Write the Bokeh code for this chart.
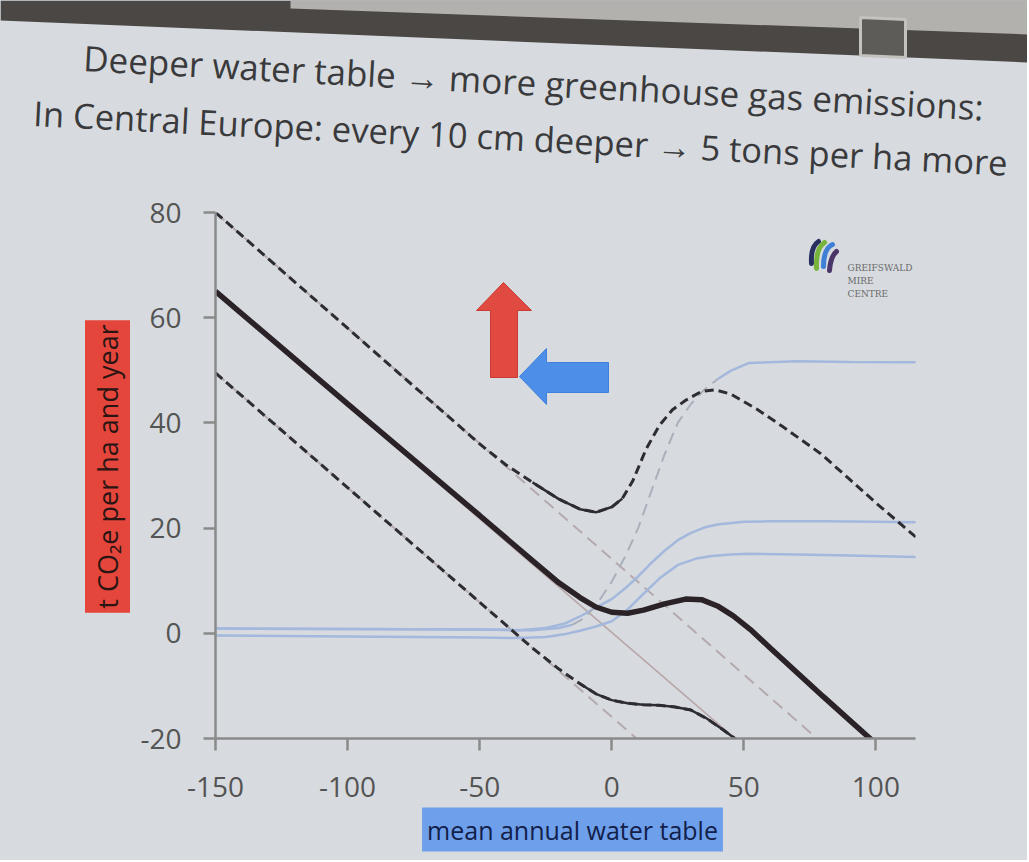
import numpy as np
from bokeh.plotting import figure
from bokeh.layouts import column
from bokeh.models import Range1d, FixedTicker, Label, PrintfTickFormatter
from bokeh.embed import file_html
from bokeh.resources import INLINE

# ---------------- data ----------------
x_ticks = [-150, -100, -50, 0, 50, 100]
y_ticks = [-20, 0, 20, 40, 60, 80]

# total emissions (thick black line)
total_x = [-150, -100, -50, -30, -20, -12, -6, 0, 6, 12, 20, 28, 34, 40, 46, 53, 60, 70, 80, 90, 100, 108]
total_y = [65, 43.6, 22.4, 13.8, 9.6, 6.8, 5.0, 4.0, 3.8, 4.4, 5.6, 6.5, 6.4, 5.2, 3.3, 0.5, -2.8, -7.4, -12.0, -16.5, -21.0, -24.6]

# upper bound (dashed black)
upper_x = [-150, -100, -50, -40, -30, -20, -12, -6, 0, 4, 8, 13, 18, 23, 28, 34, 39, 45, 55, 65, 79, 90, 100, 110, 117]
upper_y = [80, 58, 36, 32, 28.7, 25.5, 23.6, 23.0, 24.0, 25.6, 29, 35, 39.5, 42.5, 44.3, 46.0, 46.3, 45.5, 42.6, 39.2, 34.2, 29.3, 24.8, 20.5, 17.5]

# lower bound (dashed black)
lower_x = [-150, -100, -50, -30, -20, -12, -6, 0, 6, 12, 18, 24, 30, 36, 42, 48, 55]
lower_y = [49.5, 27.7, 5.9, -2.8, -6.8, -9.6, -11.5, -12.7, -13.3, -13.6, -13.7, -14.0, -14.6, -16.2, -18.3, -20.5, -23.0]

# straight CO2 lines (grey)
co2_upper_x = [-150, 80]
co2_upper_y = [80, -21]
co2_mid_x = [-150, 49]
co2_mid_y = [65, -21]
co2_lower_x = [-150, 14]
co2_lower_y = [49.5, -22]

# methane curves (light blue)
ch4_high_x = [-150, -100, -50, -30, -20, -15, -10, -5, 0, 5, 10, 15, 20, 25, 30, 35, 40, 45, 52, 70, 90, 117]
ch4_high_y = [0.9, 0.8, 0.7, 0.6, 1.0, 1.6, 3.0, 6.0, 9.8, 14.5, 20, 27, 34, 40, 43.6, 46.3, 48.3, 49.9, 51.4, 51.7, 51.6, 51.5]
ch4_mid_x = [-150, -100, -50, -35, -25, -18, -12, -6, 0, 5, 10, 15, 20, 25, 30, 35, 40, 50, 60, 80, 100, 117]
ch4_mid_y = [0.9, 0.8, 0.7, 0.6, 1.0, 1.8, 3.2, 4.9, 6.5, 8.5, 10.8, 13.4, 15.7, 17.7, 19.1, 20.1, 20.7, 21.2, 21.3, 21.3, 21.2, 21.1]
ch4_low_x = [-150, -100, -50, -35, -25, -18, -12, -6, 0, 6, 12, 18, 25, 32, 38, 45, 52, 70, 90, 117]
ch4_low_y = [-0.4, -0.6, -0.8, -0.9, -0.7, -0.2, 0.5, 1.3, 2.3, 4.5, 7.5, 10.4, 13.0, 14.2, 14.7, 15.0, 15.1, 15.0, 14.8, 14.5]

title_1 = "Deeper water table \u2192 more greenhouse gas emissions:"
title_2 = "In Central Europe: every 10 cm deeper \u2192 5 tons per ha more"
y_label = "t CO\u2082e per ha and year"
x_label = "mean annual water table"
logo_lines = ["GREIFSWALD", "MIRE", "CENTRE"]

# ---------------- layout / style ----------------
BG = "#d7dbdf"
FONT = "Open Sans"
W = 1027
HTOT = 860
HH = 194                     # header height (picture y 0 .. 194)
MH = HTOT - HH               # main figure height
X0, X1, Y0, Y1 = -150, 115, -20, 80
FL, FT, FW, FH = 215, 212, 700, 526          # frame position in the picture (px)
SX, SY = FW / (X1 - X0), FH / (Y1 - Y0)
TOP = FT - HH


def px_x(px):
    return X0 + (px - FL) / SX


def px_y(py):
    return Y1 - (py - FT) / SY


def hy(py):  # picture y -> header data y
    return HH - py


# ================= header (slide title, projector frame) =================
head = figure(width=W, height=HH, x_range=Range1d(0, W), y_range=Range1d(0, HH),
              x_axis_type=None, y_axis_type=None, min_border=0, toolbar_location=None,
              output_backend="svg", background_fill_color=BG, border_fill_color=BG,
              outline_line_color=None, frame_align=False)
head.grid.visible = False

dark = [(0, 0), (1029, 0), (1029, 62), (0, 20)]
wall = [(290, 0), (1029, 0), (1029, 34), (290, 8)]
bracket = [(860, 17), (905, 19), (905, 57), (860, 55)]
head.patch([a for a, b in dark], [hy(b) for a, b in dark], fill_color="#4a4744", line_color=None)
head.patch([a for a, b in wall], [hy(b) for a, b in wall], fill_color="#b3b1ae", line_color=None)
head.patch([a for a, b in bracket], [hy(b) for a, b in bracket], fill_color="#5e5c59",
           line_color="#c4c2bf", line_width=3)

head.add_layout(Label(x=83, y=hy(57), text=title_1, angle=-0.055, text_font=FONT,
                      text_font_size="35px", text_color="#3a3a3c", text_baseline="alphabetic"))
head.add_layout(Label(x=33, y=hy(112), text=title_2, angle=-0.051, text_font=FONT,
                      text_font_size="34.5px", text_color="#3a3a3c", text_baseline="alphabetic"))

# ================= main chart =================
p = figure(width=W, height=MH, x_range=Range1d(X0, X1), y_range=Range1d(Y0, Y1),
           output_backend="svg", toolbar_location=None,
           min_border_left=FL, min_border_right=W - FL - FW,
           min_border_top=TOP, min_border_bottom=MH - TOP - FH,
           background_fill_color=BG, border_fill_color=BG, outline_line_color=None,
           frame_align=False)
p.grid.visible = False

for ax in (p.xaxis[0], p.yaxis[0]):
    ax.axis_line_color = "#8a8a8a"
    ax.axis_line_width = 2.5
    ax.major_tick_line_color = "#8a8a8a"
    ax.major_tick_line_width = 2.5
    ax.major_tick_out = 12
    ax.major_tick_in = 0
    ax.minor_tick_out = 0
    ax.minor_tick_in = 0
    ax.major_label_text_font = FONT
    ax.major_label_text_font_size = "28px"
    ax.major_label_text_color = "#545454"
    ax.formatter = PrintfTickFormatter(format="%d")
p.xaxis.ticker = FixedTicker(ticks=x_ticks)
p.yaxis.ticker = FixedTicker(ticks=y_ticks)
p.xaxis.major_label_standoff = 26
p.yaxis.major_label_standoff = 22

GREY = "#b4aaad"
BLUE = "#a3b8dc"
BLACK = "#2e2c33"

p.line(co2_upper_x, co2_upper_y, line_color=GREY, line_width=2, line_dash="12 7")
p.line(co2_lower_x, co2_lower_y, line_color=GREY, line_width=2, line_dash="12 7")
p.line(co2_mid_x, co2_mid_y, line_color="#b9a7a9", line_width=1.6)

hxs, hys = np.array(ch4_high_x, float), np.array(ch4_high_y, float)
steep = (hxs >= -15) & (hxs <= 40)
p.line(hxs[hxs <= -15], hys[hxs <= -15], line_color=BLUE, line_width=2.5)
p.line(hxs[hxs >= 40], hys[hxs >= 40], line_color=BLUE, line_width=2.5)
p.line(ch4_mid_x, ch4_mid_y, line_color=BLUE, line_width=2.5)
p.line(ch4_low_x, ch4_low_y, line_color=BLUE, line_width=2.5)
p.line(hxs[steep], hys[steep], line_color="#aab0bb", line_width=2, line_dash="12 7")

ux, uy = np.array(upper_x, float), np.array(upper_y, float)
p.line(ux, uy, line_color=BLACK, line_width=3, line_dash="9 5")
us = (ux >= -30) & (ux <= 4)
p.line(ux[us], uy[us], line_color=BLACK, line_width=2.5)

lx, ly = np.array(lower_x, float), np.array(lower_y, float)
p.line(lx, ly, line_color=BLACK, line_width=3, line_dash="9 5")
ls = lx >= -12
p.line(lx[ls], ly[ls], line_color=BLACK, line_width=2.5)

p.line(total_x, total_y, line_color="#2a2226", line_width=5.5)

# ---- arrows (decoration) ----
red_px = [(503, 282), (531, 310), (517, 310), (517, 377), (490, 377), (490, 310), (476, 310)]
blue_px = [(519, 376), (546, 348), (546, 362), (608, 362), (608, 392), (546, 392), (546, 404)]
p.patch([px_x(a) for a, b in red_px], [px_y(b) for a, b in red_px],
        fill_color="#e14a40", line_color="#c93a32", line_width=1)
p.patch([px_x(a) for a, b in blue_px], [px_y(b) for a, b in blue_px],
        fill_color="#4d8fe8", line_color="#3f80da", line_width=1)

# ---- logo ----
strokes = [((811, 263), (810, 246), (818, 241), "#27305e"),
           ((816, 268), (815, 248), (824, 242), "#78b43c"),
           ((823, 266), (823, 248), (832, 244), "#3f7fd6"),
           ((829, 270), (830, 256), (836, 251), "#4b3569")]
for (a, c, b, col) in strokes:
    p.quadratic(x0=[px_x(a[0])], y0=[px_y(a[1])], x1=[px_x(b[0])], y1=[px_y(b[1])],
                cx=[px_x(c[0])], cy=[px_y(c[1])], line_color=col, line_width=5, line_cap="round")
for i, t in enumerate(logo_lines):
    p.add_layout(Label(x=px_x(847), y=px_y(267 + 13 * i), text=t, text_font="DejaVu Serif",
                       text_font_size="9px", text_color="#6a6a6a", text_baseline="middle"))

# ---- axis titles in coloured boxes (side panels, canvas units) ----
p.add_layout(Label(x=107, y=466 - HH, x_units="canvas", y_units="canvas", text=y_label,
                   angle=np.pi / 2, text_font=FONT, text_font_size="27px", text_color="#2a1514",
                   text_align="center", text_baseline="middle", padding=0,
                   background_fill_color="#e4463b", border_line_color="#e4463b",
                   border_line_width=8, border_line_join="miter"), "left")
p.add_layout(Label(x=572, y=829 - HH, x_units="canvas", y_units="canvas", text=x_label,
                   text_font=FONT, text_font_size="25px", text_color="#12204a",
                   text_align="center", text_baseline="middle", padding=0,
                   background_fill_color="#6e9fea", border_line_color="#6e9fea",
                   border_line_width=10, border_line_join="miter"), "below")

layout = column(head, p, styles={"background-color": BG})
open("out.html", "w").write(file_html(layout, INLINE))
